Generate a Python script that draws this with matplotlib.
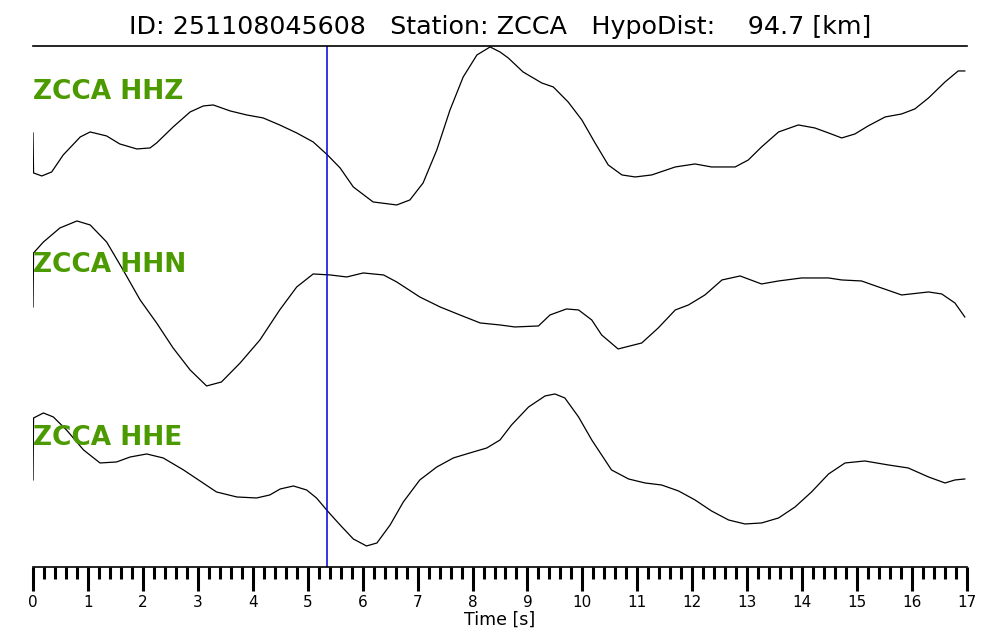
import numpy as np
import matplotlib.pyplot as plt
from matplotlib.ticker import MultipleLocator

# event / station info
event_id = '251108045608'
station = 'ZCCA'
hypo_dist = 94.7
pick_time = 5.36  # s

# traces (time in s, trace height in plot units)
t_z = [0.0, 0.01, 0.16, 0.34, 0.55, 0.86, 1.04, 1.34, 1.58, 1.89, 2.13, 2.25, 2.55, 2.86,
       3.10, 3.28, 3.59, 3.89, 4.19, 4.49, 4.80, 5.10, 5.36, 5.59, 5.83, 6.19, 6.62, 6.86,
       7.10, 7.35, 7.59, 7.83, 8.08, 8.32, 8.50, 8.65, 8.92, 9.26, 9.47, 9.74, 9.99, 10.23,
       10.47, 10.72, 10.96, 11.26, 11.69, 12.05, 12.35, 12.78, 13.02, 13.26, 13.57, 13.93,
       14.23, 14.48, 14.72, 14.96, 15.20, 15.51, 15.81, 16.05, 16.30, 16.60, 16.84, 16.96]
hhz = [434, 394, 391, 395, 412, 430, 435, 431, 423, 418, 419, 424, 440, 455,
       461, 462, 456, 452, 449, 442, 434, 425, 412, 399, 380, 365, 362, 367,
       384, 417, 457, 490, 512, 520, 515, 509, 495, 484, 480, 465, 447, 424,
       402, 392, 390, 392, 400, 403, 400, 400, 407, 420, 435, 442,
       439, 434, 429, 433, 441, 450, 453, 458, 469, 485, 496, 496]

t_n = [0.0, 0.01, 0.19, 0.49, 0.80, 1.04, 1.34, 1.64, 1.95, 2.25, 2.55, 2.86, 3.16, 3.43,
       3.77, 4.13, 4.49, 4.80, 5.10, 5.41, 5.71, 6.01, 6.38, 6.62, 7.04, 7.41, 7.77, 8.14,
       8.50, 8.77, 9.20, 9.41, 9.71, 9.93, 10.17, 10.35, 10.65, 11.08, 11.38, 11.69, 11.93,
       12.23, 12.54, 12.87, 13.26, 13.57, 13.99, 14.48, 14.72, 15.08, 15.39, 15.81, 16.30,
       16.54, 16.78, 16.96]
hhn = [260, 314, 325, 339, 346, 342, 325, 297, 267, 244, 219, 197, 181, 185,
       204, 227, 257, 280, 293, 292, 290, 294, 292, 285, 270, 260, 252, 244,
       242, 240, 241, 252, 258, 257, 247, 232, 218, 224, 239, 257, 262,
       272, 287, 291, 283, 286, 289, 289, 287, 286, 280, 272, 275,
       273, 264, 250]

t_e = [0.0, 0.01, 0.19, 0.37, 0.61, 0.92, 1.22, 1.52, 1.77, 2.07, 2.37, 2.74, 3.04, 3.34,
       3.71, 4.07, 4.31, 4.50, 4.74, 4.98, 5.16, 5.36, 5.59, 5.83, 6.07, 6.26, 6.50, 6.74,
       7.04, 7.35, 7.65, 7.95, 8.26, 8.50, 8.71, 9.02, 9.32, 9.50, 9.68, 9.93, 10.17, 10.35,
       10.53, 10.84, 11.14, 11.44, 11.75, 12.05, 12.35, 12.66, 12.96, 13.26, 13.57, 13.87,
       14.17, 14.48, 14.78, 15.14, 15.57, 15.93, 16.30, 16.60, 16.78, 16.96]
hhe = [87, 149, 154, 150, 137, 117, 104, 105, 110, 113, 109, 97, 86, 75,
       70, 69, 72, 78, 81, 77, 69, 56, 42, 28, 21, 24, 42, 65,
       87, 100, 109, 114, 119, 127, 142, 160, 171, 173, 169, 150, 127, 112,
       97, 88, 84, 82, 76, 67, 56, 47, 43, 44, 49, 60,
       75, 93, 104, 106, 102, 99, 90, 84, 87, 88]

channels = ['HHZ', 'HHN', 'HHE']
label_y = [475, 302, 129]

fig = plt.figure(figsize=(10, 6.4), dpi=100)
ax = fig.add_axes([0.033, 0.1141, 0.934, 0.8141])

for tt, yy in zip([t_z, t_n, t_e], [hhz, hhn, hhe]):
    ax.plot(tt, yy, color='black', lw=0.9)

for ch, ly in zip(channels, label_y):
    ax.text(0.0, ly, station + ' ' + ch, color='#4a9a00', fontsize=19,
            fontweight='bold', va='center', ha='left')

ax.axvline(pick_time, color='#0000dd', lw=1.1)

ax.set_xlim(0, 17)
ax.set_ylim(0, 521)
ax.spines['left'].set_visible(False)
ax.spines['right'].set_visible(False)
ax.spines['top'].set_linewidth(1.2)
ax.spines['bottom'].set_linewidth(1.2)
ax.set_yticks([])
ax.xaxis.set_major_locator(MultipleLocator(1))
ax.xaxis.set_minor_locator(MultipleLocator(0.2))
ax.tick_params(axis='x', which='major', length=17, width=2.2, labelsize=11, pad=3)
ax.tick_params(axis='x', which='minor', length=8.5, width=2.2)
ax.set_xlabel('Time [s]', fontsize=12.5, labelpad=1)

fig.text(0.5, 0.958, 'ID: %s   Station: %s   HypoDist:    %.1f [km]' % (event_id, station, hypo_dist),
         ha='center', va='center', fontsize=18.3)

fig.savefig('out.png', dpi=100)
